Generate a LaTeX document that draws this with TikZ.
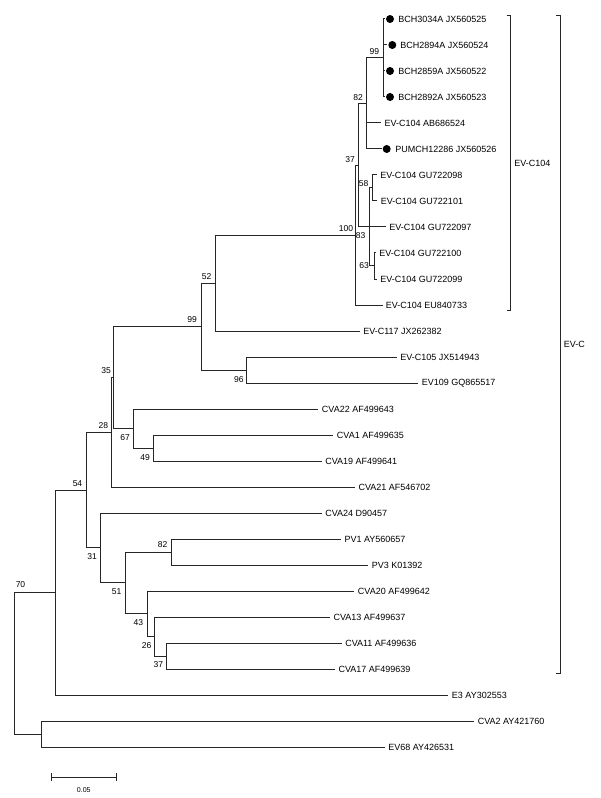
\documentclass[tikz,border=0pt]{standalone}
\usepackage{fontspec}
\setmainfont{Liberation Sans}
\usepackage{tikz}

\begin{document}
\begin{tikzpicture}[x=0.75pt,y=0.75pt,yscale=-1,xscale=1,
    branch/.style={draw=black!85,line width=0.75pt},
    leaf/.style={anchor=west,inner sep=0pt,font=\fontsize{6.75}{8}\selectfont},
    boot/.style={inner sep=0pt,font=\fontsize{6.4}{7.5}\selectfont},
    isolate/.style={circle,fill=black,inner sep=0pt,minimum size=6pt}]

            \useasboundingbox (0,0) rectangle (600,798);

            % Tips
            \coordinate (t0) at (385,19);
            \coordinate (t1) at (387,45);
            \coordinate (t2) at (385,71);
            \coordinate (t3) at (385,97);
            \coordinate (t4) at (381,123);
            \coordinate (t5) at (381.7,149);
            \coordinate (t6) at (376.5,175);
            \coordinate (t7) at (377,201);
            \coordinate (t8) at (385.5,227);
            \coordinate (t9) at (375.5,253);
            \coordinate (t10) at (376.5,279);
            \coordinate (t11) at (382.5,305);
            \coordinate (t12) at (359.5,331);
            \coordinate (t13) at (396.5,357);
            \coordinate (t14) at (418,383);
            \coordinate (t15) at (318,409);
            \coordinate (t16) at (333,435);
            \coordinate (t17) at (321.5,461);
            \coordinate (t18) at (355,487);
            \coordinate (t19) at (321.5,513);
            \coordinate (t20) at (341,539);
            \coordinate (t21) at (368,565);
            \coordinate (t22) at (354,591);
            \coordinate (t23) at (330,617);
            \coordinate (t24) at (341.5,643);
            \coordinate (t25) at (335,669);
            \coordinate (t26) at (448,695);
            \coordinate (t27) at (474,721);
            \coordinate (t28) at (385,747);

            % Inner nodes
            \coordinate (n99a) at (383.3,58);
            \coordinate (n82a) at (366.7,103.5);
            \coordinate (n58) at (372.3,188);
            \coordinate (n63) at (374.3,266);
            \coordinate (n83) at (369.3,227);
            \coordinate (n37a) at (358.3,165.3);
            \coordinate (n100) at (355.7,235.1);
            \coordinate (n52) at (215,283);
            \coordinate (n96) at (246.7,370);
            \coordinate (n99b) at (201,326.5);
            \coordinate (n49) at (153.3,448);
            \coordinate (n67) at (133.3,428.5);
            \coordinate (n35) at (113.3,377.5);
            \coordinate (n28) at (111,432.3);
            \coordinate (n82b) at (171,552);
            \coordinate (n37b) at (166.7,656);
            \coordinate (n26) at (154.3,636.5);
            \coordinate (n43) at (147.7,613.8);
            \coordinate (n51) at (125,582.9);
            \coordinate (n31) at (100.7,547.9);
            \coordinate (n54) at (86,490.1);
            \coordinate (n70) at (55.7,592.5);
            \coordinate (nout) at (41,734);
            \coordinate (nroot) at (14.6,663.3);

            % Branches
            \draw[branch] (n99a) |- (t0) (n99a) |- (t1) (n99a) |- (t2) (n99a) |- (t3);
            \draw[branch] (n82a) |- (n99a) (n82a) |- (t4) (n82a) |- (t5);
            \draw[branch] (n58) |- (t6) (n58) |- (t7);
            \draw[branch] (n63) |- (t9) (n63) |- (t10);
            \draw[branch] (n83) |- (n58) (n83) |- (t8) (n83) |- (n63);
            \draw[branch] (n37a) |- (n82a) (n37a) |- (n83);
            \draw[branch] (n100) |- (n37a) (n100) |- (t11);
            \draw[branch] (n52) |- (n100) (n52) |- (t12);
            \draw[branch] (n96) |- (t13) (n96) |- (t14);
            \draw[branch] (n99b) |- (n52) (n99b) |- (n96);
            \draw[branch] (n49) |- (t16) (n49) |- (t17);
            \draw[branch] (n67) |- (t15) (n67) |- (n49);
            \draw[branch] (n35) |- (n99b) (n35) |- (n67);
            \draw[branch] (n28) |- (n35) (n28) |- (t18);
            \draw[branch] (n82b) |- (t20) (n82b) |- (t21);
            \draw[branch] (n37b) |- (t24) (n37b) |- (t25);
            \draw[branch] (n26) |- (t23) (n26) |- (n37b);
            \draw[branch] (n43) |- (t22) (n43) |- (n26);
            \draw[branch] (n51) |- (n82b) (n51) |- (n43);
            \draw[branch] (n31) |- (t19) (n31) |- (n51);
            \draw[branch] (n54) |- (n28) (n54) |- (n31);
            \draw[branch] (n70) |- (n54) (n70) |- (t26);
            \draw[branch] (nout) |- (t27) (nout) |- (t28);
            \draw[branch] (nroot) |- (n70) (nroot) |- (nout);

            % New isolates
            \node[isolate] (d0) at (390,19) {};
            \node[isolate] (d1) at (392.3,45) {};
            \node[isolate] (d2) at (390,71) {};
            \node[isolate] (d3) at (390,97) {};
            \node[isolate] (d5) at (386.7,149) {};

            % Text Node
            \node[leaf] (s0) at (398,19) {BCH3034A JX560525};
            \node[leaf] (s1) at (400,45) {BCH2894A JX560524};
            \node[leaf] (s2) at (398,71) {BCH2859A JX560522};
            \node[leaf] (s3) at (398,97) {BCH2892A JX560523};
            \node[leaf] (s4) at (384.3,123) {EV-C104 AB686524};
            \node[leaf] (s5) at (395,149) {PUMCH12286 JX560526};
            \node[leaf] (s6) at (380,175) {EV-C104 GU722098};
            \node[leaf] (s7) at (380.7,201) {EV-C104 GU722101};
            \node[leaf] (s8) at (389,227) {EV-C104 GU722097};
            \node[leaf] (s9) at (379,253) {EV-C104 GU722100};
            \node[leaf] (s10) at (380,279) {EV-C104 GU722099};
            \node[leaf] (s11) at (385.7,305) {EV-C104 EU840733};
            \node[leaf] (s12) at (363,331) {EV-C117 JX262382};
            \node[leaf] (s13) at (400,357) {EV-C105 JX514943};
            \node[leaf] (s14) at (421.5,383) {EV109 GQ865517};
            \node[leaf] (s15) at (321.7,409) {CVA22 AF499643};
            \node[leaf] (s16) at (336.7,435) {CVA1 AF499635};
            \node[leaf] (s17) at (325,461) {CVA19 AF499641};
            \node[leaf] (s18) at (358.3,487) {CVA21 AF546702};
            \node[leaf] (s19) at (325,513) {CVA24 D90457};
            \node[leaf] (s20) at (344.3,539) {PV1 AY560657};
            \node[leaf] (s21) at (371.7,565) {PV3 K01392};
            \node[leaf] (s22) at (357.7,591) {CVA20 AF499642};
            \node[leaf] (s23) at (333.3,617) {CVA13 AF499637};
            \node[leaf] (s24) at (345,643) {CVA11 AF499636};
            \node[leaf] (s25) at (338.3,669) {CVA17 AF499639};
            \node[leaf] (s26) at (451.7,695) {E3 AY302553};
            \node[leaf] (s27) at (477.5,721) {CVA2 AY421760};
            \node[leaf] (s28) at (388,747) {EV68 AY426531};

            % Bootstrap values
            \node[boot] (b99a) at (374.3,51.7) {99};
            \node[boot] (b82a) at (358,97.5) {82};
            \node[boot] (b37a) at (350,159.7) {37};
            \node[boot] (b58) at (363.5,183.5) {58};
            \node[boot] (b100) at (346,229) {100};
            \node[boot] (b83) at (360.5,236) {83};
            \node[boot] (b63) at (364,266) {63};
            \node[boot] (b52) at (206.7,276.3) {52};
            \node[boot] (b99b) at (192,320) {99};
            \node[boot] (b96) at (238.8,379.7) {96};
            \node[boot] (b35) at (106,371) {35};
            \node[boot] (b28) at (103.3,426) {28};
            \node[boot] (b67) at (125,437.3) {67};
            \node[boot] (b49) at (145,457.3) {49};
            \node[boot] (b54) at (77.5,483.3) {54};
            \node[boot] (b31) at (92,556.7) {31};
            \node[boot] (b82b) at (162.7,545) {82};
            \node[boot] (b51) at (116.7,591.7) {51};
            \node[boot] (b43) at (138.3,622.7) {43};
            \node[boot] (b26) at (146.7,645.7) {26};
            \node[boot] (b37b) at (158.3,665) {37};
            \node[boot] (b70) at (20.5,585) {70};

            % Clade brackets
            \draw[branch] (506.7,15.7) -- (510.7,15.7) -- (510.7,310) -- (506.7,310);
            \node[leaf] (evc104) at (514,163) {EV-C104};
            \draw[branch] (556,15.7) -- (560,15.7) -- (560,673.3) -- (556,673.3);
            \node[leaf] (evc) at (563.5,344.5) {EV-C};

            % Scale bar
            \draw[branch] (51,777) -- (116.5,777);
            \draw[branch] (51,773) -- (51,781);
            \draw[branch] (116.5,773) -- (116.5,781);
            \node[boot,font=\fontsize{5.3}{6}\selectfont] (scale) at (83.8,790) {0.05};

        \end{tikzpicture}
\end{document}
